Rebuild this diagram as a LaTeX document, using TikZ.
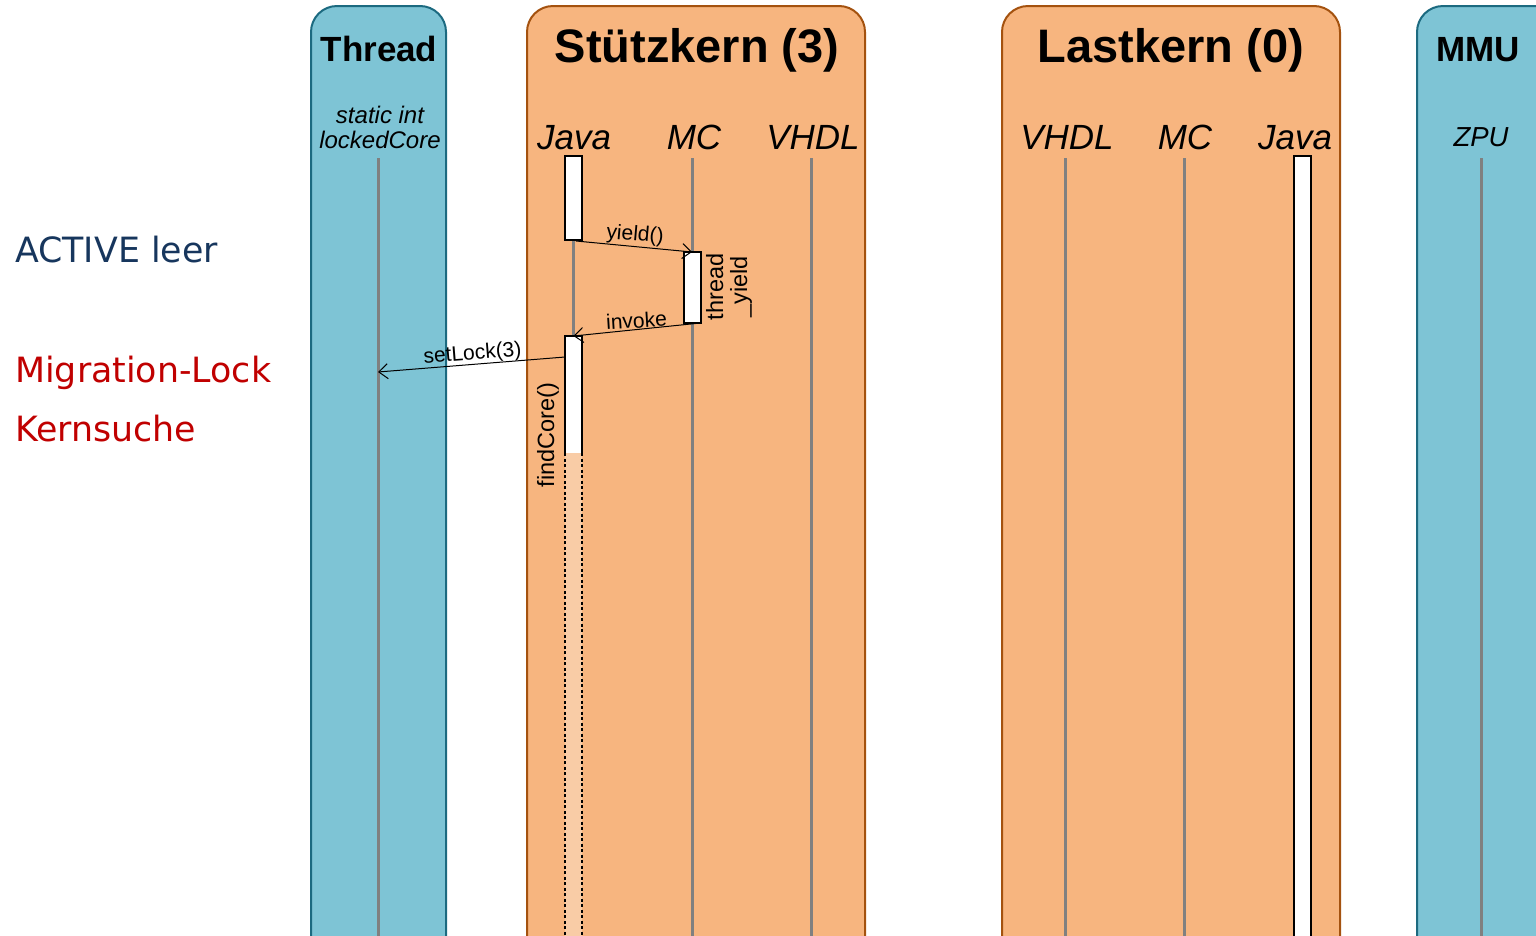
\documentclass[tikz,border=0pt]{standalone}
\usepackage{fontspec}
\setmainfont{Liberation Sans}
\newfontfamily\notefont{DejaVu Sans}
\usetikzlibrary{arrows.meta,calc}

\definecolor{bluefill}{HTML}{7EC4D5}
\definecolor{blueedge}{HTML}{1C6A80}
\definecolor{orangefill}{HTML}{F7B57F}
\definecolor{orangeedge}{HTML}{A4520F}
\definecolor{lifegray}{HTML}{808080}
\definecolor{pale}{HTML}{F9CCA6}
\definecolor{navy}{HTML}{17365D}
\definecolor{darkred}{HTML}{C00000}

\tikzset{
  bluelane/.style={fill=bluefill,draw=blueedge,line width=2pt,rounded corners=26pt},
  orangelane/.style={fill=orangefill,draw=orangeedge,line width=2pt,rounded corners=26pt},
  lifeline/.style={draw=lifegray,line width=3pt},
  actbox/.style={draw=black,fill=white,line width=2pt,minimum width=17pt,inner sep=0pt,outer sep=0pt},
  title/.style={font=\fontsize{47}{56}\selectfont\bfseries,inner sep=0pt,anchor=base},
  smalltitle/.style={font=\fontsize{35}{42}\selectfont\bfseries,inner sep=0pt,anchor=base},
  part/.style={font=\fontsize{35}{42}\selectfont\itshape,inner sep=0pt,anchor=base},
  var/.style={font=\fontsize{24}{26}\selectfont\itshape,inner sep=0pt,anchor=base},
  msg/.style={draw=black,line width=1pt,-{Straight Barb[length=9pt,width=15pt]}},
  msglabel/.style={font=\fontsize{21}{24}\selectfont,inner sep=1pt},
  vlabel/.style={font=\fontsize{23.5}{24}\selectfont,inner sep=0pt,rotate=90,align=center},
  note/.style={font=\notefont\fontsize{34.8}{40}\selectfont,inner sep=0pt,anchor=base west},
}

\begin{document}
\begin{tikzpicture}[x=1pt,y=-1pt]
\useasboundingbox (0,0) rectangle (1536,935);
\clip (0,0) rectangle (1536,935);

% lanes
\draw[bluelane] (311,6) rectangle (446,990);
\draw[orangelane] (527,6) rectangle (865,990);
\draw[orangelane] (1002,6) rectangle (1340,990);
\draw[bluelane] (1417,6) rectangle (1600,990);

% lane titles
\node[smalltitle] (thread) at (379,61) {Thread};
\node[title] (stuetz) at (697,62) {Stützkern (3)};
\node[title] (last) at (1171,62) {Lastkern (0)};
\node[smalltitle] (mmu) at (1478,61) {MMU};

% parts
\node[var] (static) at (380,123) {static int};
\node[var] (locked) at (380,148) {lockedCore};
\node[part] (sjava) at (574,149) {Java};
\node[part] (smc) at (694,149) {MC};
\node[part] (svhdl) at (813,149) {VHDL};
\node[part] (lvhdl) at (1067,149) {VHDL};
\node[part] (lmc) at (1185,149) {MC};
\node[part] (ljava) at (1295,149) {Java};
\node[font=\fontsize{27.5}{30}\selectfont\itshape,inner sep=0pt,anchor=base] (zpu) at (1481,146) {ZPU};

% lifelines
\draw[lifeline] (378,158) -- (378,940);
\draw[lifeline] (573,156) -- (573,453);
\draw[lifeline] (692,158) -- (692,940);
\draw[lifeline] (811,158) -- (811,940);
\draw[lifeline] (1065,158) -- (1065,940);
\draw[lifeline] (1184,158) -- (1184,940);
\draw[lifeline] (1481,158) -- (1481,940);
\coordinate (lockpt) at (378,372);

% activations
\node[actbox,minimum height=84pt] (j1) at (573.5,198) {};
\node[actbox,minimum height=71pt] (m1) at (692,287.5) {};
\node[actbox,draw=none,minimum height=117pt] (j2) at (573.5,394.5) {};
\draw[line width=2pt] (j2.south west) -- (j2.north west) -- (j2.north east) -- (j2.south east);
\fill[pale] (565,453) rectangle (582,940);
\draw[line width=2pt,dash pattern=on 3pt off 2.5pt] (565,453) -- (565,940);
\draw[line width=2pt,dash pattern=on 3pt off 2.5pt] (582,453) -- (582,940);
\node[actbox,minimum height=800pt,anchor=north] (lj) at (1302.5,156) {};

% messages
\draw[msg] ($(j1.south east)+(-6,1)$) -- (m1.north)
  node[msglabel,pos=0.5,anchor=south,rotate=-4.9] (ly) {yield()};
\draw[msg] (m1.south east) -- (j2.north)
  node[msglabel,pos=0.5,anchor=south,rotate=3.6] (li) {invoke};
\draw[msg] ($(j2.north west)+(0,21)$) -- (lockpt)
  node[msglabel,pos=0.49,anchor=south,rotate=4.6,yshift=-1pt] (ls) {setLock(3)};

\node[vlabel] (ty) at (729,287) {thread\\\_yield};
\node[vlabel] (fc) at (548,435) {findCore()};

% notes
\node[note,text=navy] (n1) at (15,262) {ACTIVE leer};
\node[note,text=darkred] (n2) at (15,382) {Migration-Lock};
\node[note,text=darkred] (n3) at (15,441) {Kernsuche};
\end{tikzpicture}
\end{document}
